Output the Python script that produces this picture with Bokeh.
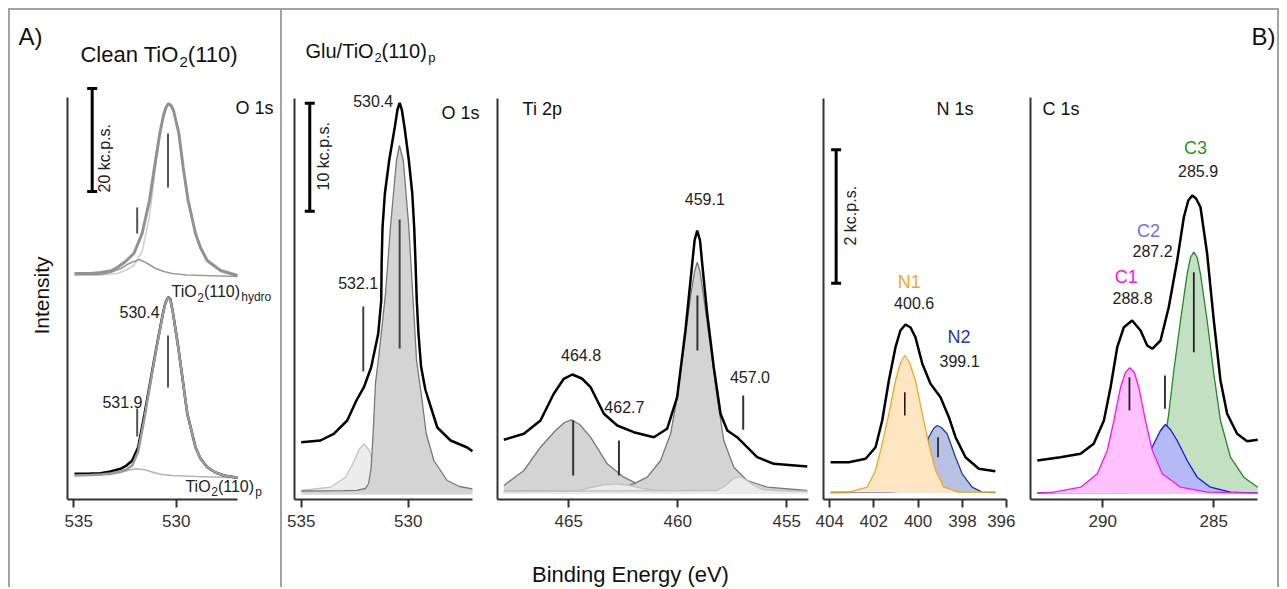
import math
from bokeh.plotting import figure
from bokeh.models import Range1d, FixedTicker, Label, Spacer
from bokeh.layouts import row, column
from bokeh.embed import file_html
from bokeh.resources import INLINE

FONT = "Liberation Sans"

# ------------------------------------------------------------------ data
# intensities are in arbitrary units

# A) clean TiO2(110), O 1s
a_hyd_tot_e = [534.95, 534.17, 533.69, 533.20, 532.87, 532.47, 532.06, 531.66, 531.30, 531.06, 530.80, 530.62, 530.50,
               530.38, 530.25, 530.13, 529.87, 529.66, 529.42, 529.06, 528.82, 528.49, 527.84, 527.02]
a_hyd_tot_i = [228, 228, 229, 230.5, 234, 240, 248, 268, 301, 334, 368, 386, 394, 398, 396, 391, 368, 334, 301, 268, 254,
               241, 231, 226]
a_hyd_lat_e = [534.95, 533.69, 532.87, 532.47, 532.06, 531.66, 531.30, 531.06, 530.80, 530.62, 530.50, 530.38, 530.25,
               530.13, 529.87, 529.66, 529.42, 529.06, 528.82, 528.49, 527.84, 527.02]
a_hyd_lat_i = [226, 226.5, 228, 231, 236, 250, 285, 325, 365, 385, 393, 397, 395, 390, 367, 333, 300, 267, 253, 240, 230,
               225]
a_hyd_oh_e = [534.95, 533.69, 533.20, 532.70, 532.30, 531.80, 531.40, 531.00, 530.60, 530.20, 529.50, 527.02]
a_hyd_oh_i = [227, 227, 229, 233, 238, 242, 238, 233, 230, 228, 226.5, 225]

a_p_e = [534.95, 534.17, 533.69, 533.20, 532.71, 532.42, 532.14, 531.85, 531.54, 531.25, 530.96, 530.65, 530.52, 530.39,
         530.28, 530.15, 529.90, 529.68, 529.46, 529.06, 528.82, 528.49, 528.09, 527.68, 527.02]
a_p_data_i = [27.7, 28, 28.3, 30, 32.7, 36, 41, 54.3, 87.7, 121, 154.3, 187.7, 199, 204.3, 202, 187.7, 154.3, 121, 87.7,
              54.3, 43, 34.3, 29, 26, 23.7]
a_p_fit_i = [26, 26.5, 27, 28, 30, 32, 36, 50, 84, 119, 153, 187, 198.5, 204, 201.5, 187.5, 154, 121, 87.7, 54.3, 43,
             34.3, 29, 26, 23.7]
a_p_oh_e = [534.95, 533.20, 532.70, 532.30, 531.90, 531.50, 531.10, 530.70, 530.20, 529.00, 527.02]
a_p_oh_i = [26, 27, 29, 31.5, 32.7, 31.5, 29, 27, 26, 25, 23.7]

a_mark_e = [530.4, 531.9]
a_mark_hyd_lo = [314, 268]
a_mark_hyd_hi = [368, 294]
a_mark_p_lo = [114, 65]
a_mark_p_hi = [166, 93]
a_labels = ["530.4", "531.9"]
a_ticks = [535, 530]

# B) Glu/TiO2(110)p, O 1s
b_o_tot_e = [535.0, 534.10, 533.48, 532.85, 532.42, 532.07, 531.73, 531.40, 531.26, 531.24, 531.20, 531.09, 530.89,
             530.63, 530.50, 530.40, 530.30, 530.17, 529.97, 529.81, 529.72, 529.66, 529.60, 529.52, 529.40, 529.20,
             529.04, 528.64, 528.02, 527.24, 527.0]
b_o_tot_i = [59.3, 61, 67.7, 81, 101, 114.3, 134.3, 168, 201, 240, 274, 308, 341, 374, 392, 398.7, 392, 374, 341, 308,
             274, 240, 201, 168, 135, 112, 101, 74, 61, 54, 50.3]
b_o_main_e = [535.0, 533.0, 532.4, 532.0, 531.85, 531.73, 531.64, 531.53, 531.35, 531.20, 531.06, 530.83, 530.55,
              530.41, 530.23, 529.97, 529.79, 529.61, 529.35, 529.16, 528.80, 528.18, 527.60, 527.0]
b_o_main_i = [10.5, 10.8, 11.2, 13, 18, 34, 68, 118, 150, 180, 208, 274, 341, 356, 341, 274, 208, 141, 101, 68, 41, 21,
              15, 12.7]
b_o_oh_e = [535.0, 533.63, 532.93, 532.51, 532.30, 532.07, 531.85, 531.64, 531.21, 530.67, 529.43, 527.0]
b_o_oh_i = [11, 14.3, 24.3, 41, 52, 57.7, 52, 41, 24.3, 14.3, 10.3, 10]
b_o_mark_e = [530.4, 532.1]
b_o_mark_lo = [153, 130]
b_o_mark_hi = [282, 195]
b_o_ticks = [535, 530]

# Ti 2p
t_tot_e = [467.98, 467.06, 466.30, 465.69, 465.23, 464.84, 464.40, 464.00, 463.39, 462.78, 462.02, 461.10, 460.49,
           460.03, 459.65, 459.34, 459.23, 459.11, 458.98, 458.88, 458.65, 458.35, 458.04, 457.73, 457.28, 456.82,
           456.36, 455.60, 454.06]
t_tot_i = [59.7, 65.7, 79, 105.7, 120.7, 125, 121, 112.3, 85.7, 74, 67.3, 62.3, 70.7, 102.3, 169, 235.7, 259, 269, 259,
           235.7, 185.7, 132.3, 85.7, 69, 62.3, 52.3, 42.3, 35.7, 33]
t_a_e = [467.98, 467.06, 466.30, 465.61, 465.20, 464.88, 464.50, 464.00, 463.24, 462.48, 461.86, 460.94, 458.96, 454.06]
t_a_i = [14, 29, 52.3, 69, 77, 79.7, 75, 62.3, 35.7, 22.3, 15.7, 10.7, 8, 8]
t_b_e = [467.98, 464.46, 462.78, 462.02, 461.40, 460.79, 460.33, 460.03, 459.72, 459.42, 459.23, 459.11, 458.98,
         458.81, 458.50, 458.19, 457.89, 457.43, 456.82, 455.90, 454.06]
t_b_i = [8, 9, 10.7, 15.7, 22.3, 39, 65.7, 102.3, 152.3, 202.3, 228, 237.3, 228, 202.3, 152.3, 102.3, 59, 32.3, 19,
         12.3, 9]
t_c_e = [467.98, 464.50, 464.00, 463.40, 462.78, 462.20, 461.60, 460.90, 454.06]
t_c_i = [8, 9, 12, 14.7, 15.7, 14, 11, 9, 8]
t_d_e = [467.98, 458.20, 457.80, 457.50, 457.15, 456.90, 456.50, 456.10, 455.50, 454.06]
t_d_i = [8, 9, 14, 20, 23, 20, 14, 10, 9, 8]
t_mark_e = [464.8, 462.7, 459.1, 457.0]
t_mark_lo = [24, 24, 149, 69.7]
t_mark_hi = [79, 59, 204, 104]
t_ticks = [465, 460, 455]

# N 1s
n_tot_e = [403.95, 403.13, 402.37, 401.92, 401.62, 401.32, 401.02, 400.80, 400.57, 400.34, 400.12, 399.81, 399.44,
           398.99, 398.61, 398.31, 397.86, 397.26, 396.51]
n_tot_i = [38.3, 38.3, 41.7, 53.3, 80, 120, 153.3, 170, 176, 173, 163.3, 136.7, 116.7, 103.3, 83.3, 63.3, 43.3, 31.7,
           29.3]
n1_e = [403.95, 403.13, 402.30, 401.92, 401.62, 401.32, 401.02, 400.79, 400.60, 400.39, 400.12, 399.81, 399.52, 399.21,
        398.84, 398.16, 396.51]
n1_i = [8.3, 8.3, 13.3, 30, 56.7, 86.7, 120, 138, 145, 138, 120, 86.7, 56.7, 30, 13.3, 8.3, 8.3]
n2_e = [403.95, 401.25, 400.57, 400.12, 399.81, 399.52, 399.30, 399.14, 398.95, 398.69, 398.31, 398.01, 397.56, 397.11,
        396.51]
n2_i = [8, 8.3, 10, 17, 36.7, 63.3, 72, 75, 73, 66.7, 43.3, 26.7, 13.3, 8.3, 8]
n_mark_e = [400.6, 399.1]
n_mark_lo = [85, 43.3]
n_mark_hi = [108.3, 63.3]
n_ticks = [404, 402, 400, 398, 396]

# C 1s
c_tot_e = [292.95, 291.91, 291.00, 290.41, 289.95, 289.65, 289.35, 289.05, 288.68, 288.30, 288.00, 287.77, 287.40,
           287.03, 286.65, 286.35, 286.15, 285.97, 285.80, 285.60, 285.30, 285.00, 284.70, 284.40, 283.95, 283.50,
           283.02]
c_tot_i = [39, 42.3, 45.7, 55.7, 79, 112.3, 152.3, 172.3, 179, 169, 154, 150.7, 159, 192.3, 239, 282.3, 299, 304, 301,
           292.3, 245.7, 179, 119, 85.7, 65.7, 58.3, 59.7]
c1_e = [292.95, 292.21, 291.00, 290.25, 289.80, 289.50, 289.20, 288.98, 288.78, 288.58, 288.38, 288.08, 287.77, 287.32,
        286.50, 285.30, 283.02]
c1_i = [6.3, 7.3, 12.3, 25.7, 49, 79, 112.3, 127, 131.7, 127, 112.3, 79, 49, 25.7, 12.3, 7.3, 6.3]
c2_e = [292.95, 289.50, 288.75, 288.30, 288.00, 287.70, 287.40, 287.18, 286.95, 286.65, 286.20, 285.75, 285.15, 284.25,
        283.02]
c2_i = [6.3, 9, 15.7, 29, 42.3, 55.7, 69, 75, 70, 59, 39, 22.3, 12.3, 7.3, 6.3]
c3_e = [292.95, 288.75, 288.00, 287.55, 287.25, 287.03, 286.80, 286.50, 286.20, 286.05, 285.90, 285.75, 285.60, 285.30,
        285.00, 284.70, 284.25, 283.65, 283.02]
c3_i = [6.3, 7, 12.3, 25.7, 52.3, 85.7, 129, 179, 225.7, 242, 247.3, 242, 225.7, 179, 125.7, 79, 42.3, 22.3, 12.3]
c_mark_e = [288.8, 287.2, 285.9]
c_mark_lo = [89, 90.7, 147.3]
c_mark_hi = [122.3, 124, 227.3]
c_ticks = [290, 285]

# ------------------------------------------------------------------ helpers
CW = {" ": 278, "(": 333, ")": 333, ".": 278, "/": 278, "A": 667, "B": 667, "C": 722, "G": 778, "O": 778, "T": 611,
      "a": 556, "c": 500, "d": 556, "e": 556, "h": 556, "i": 222, "l": 222, "n": 556, "o": 556, "p": 556, "r": 333,
      "u": 556, "y": 500}
H = 541          # canvas height of the panel row
BB = 52          # bottom border (tick labels)
FH = H - 2 - BB  # frame height


def tw(s, size):
    return sum(CW.get(ch, 556) for ch in s) * size / 1000.0


def lab(p, x, y, text, size=16, color="#222222", align="left", baseline="middle", angle=0.0, dx=0.0, dy=0.0):
    p.add_layout(Label(x=x, y=y, text=text, text_font=FONT, text_font_size=f"{size}px", text_color=color,
                       text_align=align, text_baseline=baseline, angle=angle, x_offset=dx, y_offset=dy))


def compound(p, x, y, parts, color="#222222"):
    off = 0.0
    for text, size, dy in parts:
        lab(p, x, y, text, size, color, "left", "middle", dx=off, dy=dy)
        off += tw(text, size)


def blank(width, height, xr, yr):
    p = figure(width=width, height=height, x_range=Range1d(0, xr), y_range=Range1d(0, yr), output_backend="svg",
               toolbar_location=None, tools="", x_axis_location=None, y_axis_location=None,
               min_border_left=0, min_border_right=0, min_border_top=0, min_border_bottom=0)
    p.grid.visible = False
    p.outline_line_color = None
    return p


def make_fig(width, bl, x0, x1, y0, ticks, xb, yb):
    p = figure(width=width, height=H, x_range=Range1d(x0, x1), y_range=Range1d(y0, y0 + FH),
               output_backend="svg", toolbar_location=None, tools="",
               min_border_left=bl, min_border_right=1, min_border_top=2, min_border_bottom=BB)
    p.grid.visible = False
    p.outline_line_color = None
    xa = p.xaxis[0]
    xa.ticker = FixedTicker(ticks=ticks)
    xa.bounds = xb
    xa.axis_line_width = 2
    xa.axis_line_color = "#333333"
    xa.major_tick_line_width = 2
    xa.major_tick_line_color = "#333333"
    xa.major_tick_out = 8
    xa.major_tick_in = 0
    xa.minor_tick_line_color = None
    xa.major_label_text_font = FONT
    xa.major_label_text_font_size = "17px"
    xa.major_label_text_color = "#333333"
    xa.major_label_standoff = 7
    ya = p.yaxis[0]
    ya.ticker = FixedTicker(ticks=[])
    ya.bounds = yb
    ya.axis_line_width = 2
    ya.axis_line_color = "#333333"
    ya.major_tick_line_color = None
    ya.minor_tick_line_color = None
    ya.major_tick_out = 0
    ya.major_label_standoff = 0
    ya.major_label_text_font_size = "0px"
    return p


def filled(p, e, i, base, fill, line, lw=1.3):
    p.varea(x=e, y1=[base] * len(e), y2=i, fill_color=fill)
    p.line(e, i, line_color=line, line_width=lw)


def marks(p, e, lo, hi, color, lw=2.0):
    p.segment(x0=e, y0=lo, x1=e, y1=hi, line_color=color, line_width=lw)


def scalebar(p, e, lo, hi):
    p.segment(x0=[e], y0=[lo], x1=[e], y1=[hi], line_color="black", line_width=3)
    p.scatter(x=[e, e], y=[lo, hi], marker="dash", size=10, line_color="black", line_width=3)


# ------------------------------------------------------------------ left gutter ("A)" and "Intensity")
pg = blank(54, H, 54, FH)
pg.min_border_top = 2
pg.min_border_bottom = BB
lab(pg, 8, 463, "A)", 24, "#111111", "left", "middle")
lab(pg, 31, 204, "Intensity", 21, "#111111", "center", "middle", angle=math.pi / 2)

# ------------------------------------------------------------------ panel A
pa = make_fig(216, 3, 535.292, 524.971, 2, a_ticks, (527.02, 535.292), (0, 404))
pa.line(a_hyd_lat_e, a_hyd_lat_i, line_color="#cfcfcf", line_width=1.5)
pa.line(a_hyd_oh_e, a_hyd_oh_i, line_color="#9a9a9a", line_width=1.5)
pa.line(a_hyd_tot_e, a_hyd_tot_i, line_color="#929292", line_width=3)
pa.line(a_p_oh_e, a_p_oh_i, line_color="#b4b4b4", line_width=1.5)
pa.line(a_p_e, a_p_data_i, line_color="black", line_width=2.5)
pa.line(a_p_e, a_p_fit_i, line_color="#9a9a9a", line_width=2.5)
marks(pa, a_mark_e, a_mark_hyd_lo, a_mark_hyd_hi, "#555555")
marks(pa, a_mark_e, a_mark_p_lo, a_mark_p_hi, "#555555")
scalebar(pa, 534.09, 310, 413)
lab(pa, 533.49, 309, "20 kc.p.s.", 16, "#222222", "left", "middle", angle=math.pi / 2)
compound(pa, 534.66, 447, [("Clean TiO", 22, 0), ("2", 15, -7), ("(110)", 22, 0)], "#111111")
lab(pa, 525.26, 393.5, "O 1s", 18, "#111111", "right", "middle")
compound(pa, 530.23, 210, [("TiO", 16, 0), ("2", 12, -5.5), ("(110)", 16, 0), ("hydro", 12, -5.5)])
compound(pa, 529.55, 15, [("TiO", 16, 0), ("2", 12, -5), ("(110)", 16, 0), ("p", 12, -5)])
lab(pa, 530.81, 189.3, a_labels[0], 16, "#222222", "right", "middle")
lab(pa, 531.64, 99.3, a_labels[1], 16, "#222222", "right", "middle")

# ------------------------------------------------------------------ panel B: O 1s
po = make_fig(203, 12, 535.313, 526.435, 2, b_o_ticks, (527.0, 535.313), (0, 403))
filled(po, b_o_oh_e, b_o_oh_i, 7, "#ececec", "#c2c2c2")
filled(po, b_o_main_e, b_o_main_i, 7, "#d4d4d4", "#777777")
po.line(b_o_tot_e, b_o_tot_i, line_color="black", line_width=2.5)
marks(po, b_o_mark_e, b_o_mark_lo, b_o_mark_hi, "#444444")
scalebar(po, 534.60, 290.3, 398.3)
lab(po, 533.97, 311, "10 kc.p.s.", 16, "#222222", "left", "middle", angle=math.pi / 2)
compound(po, 534.80, 451, [("Glu/TiO", 20, 0), ("2", 13, -6.5), ("(110)", 20, 0), ("p", 13, -6.5)], "#111111")
lab(po, 526.67, 388.3, "O 1s", 18, "#111111", "right", "middle")
lab(po, 530.70, 400.3, "530.4", 16, "#222222", "right", "middle")
lab(po, 531.40, 218.3, "532.1", 16, "#222222", "right", "middle")

# ------------------------------------------------------------------ panel B: Ti 2p
pt = make_fig(330, 12, 468.271, 453.729, 0, t_ticks, (454.0, 468.271), (0, 401))
filled(pt, t_a_e, t_a_i, 6, "#d4d4d4", "#777777")
filled(pt, t_b_e, t_b_i, 6, "#d4d4d4", "#777777")
filled(pt, t_c_e, t_c_i, 6, "#ebebeb", "#c2c2c2")
filled(pt, t_d_e, t_d_i, 6, "#ebebeb", "#c2c2c2")
pt.line(t_tot_e, t_tot_i, line_color="black", line_width=2.5)
marks(pt, t_mark_e, t_mark_lo, t_mark_hi, "#333333")
lab(pt, 467.12, 391, "Ti 2p", 18, "#111111", "left", "middle")
lab(pt, 458.76, 300.7, "459.1", 16, "#222222", "center", "middle")
lab(pt, 464.44, 145, "464.8", 16, "#222222", "center", "middle")
lab(pt, 462.45, 92.3, "462.7", 16, "#222222", "center", "middle")
lab(pt, 456.69, 122.3, "457.0", 16, "#222222", "center", "middle")

# ------------------------------------------------------------------ panel B: N 1s
pn = make_fig(200, 8, 404.271, 395.648, 1, n_ticks, (395.99, 404.271), (0, 402))
filled(pn, n2_e, n2_i, 8, "#b9c1e2", "#1f3aa6")
filled(pn, n1_e, n1_i, 8, "#fde6c1", "#f5a61e")
pn.line(n_tot_e, n_tot_i, line_color="black", line_width=2.5)
marks(pn, n_mark_e, n_mark_lo, n_mark_hi, "#111111", 1.5)
scalebar(pn, 403.70, 217.3, 350.7)
lab(pn, 403.05, 255, "2 kc.p.s.", 16, "#222222", "left", "middle", angle=math.pi / 2)
lab(pn, 397.50, 392, "N 1s", 18, "#111111", "right", "middle")
lab(pn, 400.40, 219, "N1", 18, "#f5a61e", "center", "middle")
lab(pn, 400.18, 197.3, "400.6", 16, "#222222", "center", "middle")
lab(pn, 398.15, 163.3, "N2", 18, "#1f3aa6", "center", "middle")
lab(pn, 398.13, 139.3, "399.1", 16, "#222222", "center", "middle")

# ------------------------------------------------------------------ panel B: C 1s
pc = make_fig(262, 15, 293.257, 282.176, 0, c_ticks, (283.03, 293.257), (0, 402))
filled(pc, c3_e, c3_i, 6, "#c3e0c3", "#1f8a1f")
filled(pc, c2_e, c2_i, 6, "#b5b9f6", "#1414f0")
filled(pc, c1_e, c1_i, 6, "#ffc2ff", "#ff10ff")
pc.line(c_tot_e, c_tot_i, line_color="black", line_width=2.5)
marks(pc, c_mark_e, c_mark_lo, c_mark_hi, "#222222", 1.8)
lab(pc, 292.72, 390.7, "C 1s", 18, "#111111", "left", "middle")
lab(pc, 283.30, 463, "B)", 24, "#111111", "left", "middle")
lab(pc, 285.82, 351.7, "C3", 18, "#1f9a1f", "center", "middle")
lab(pc, 285.71, 329, "285.9", 16, "#222222", "center", "middle")
lab(pc, 287.94, 269, "C2", 18, "#6f6ff0", "center", "middle")
lab(pc, 287.76, 249, "287.2", 16, "#222222", "center", "middle")
lab(pc, 288.94, 222.3, "C1", 18, "#ff10e0", "center", "middle")
lab(pc, 288.66, 201.3, "288.8", 16, "#222222", "center", "middle")

# ------------------------------------------------------------------ common x label strip
HS = 36
ps = blank(995, HS, 995, HS)
lab(ps, 348, 13.5, "Binding Energy (eV)", 22, "#111111", "center", "middle")

# ------------------------------------------------------------------ layout with frame lines
GREY = "#a2a2a2"


def vbar(h):
    return Spacer(width=2, height=h, styles={"background-color": GREY})


body = row(Spacer(width=8, height=H), vbar(H), pg, pa, vbar(H), po, pt, pn, pc, vbar(H))
bottom = row(Spacer(width=8, height=HS), vbar(HS), Spacer(width=270, height=HS), vbar(HS), ps, vbar(HS))
top = row(Spacer(width=8, height=2), Spacer(width=1271, height=2, styles={"background-color": GREY}))
page = column(Spacer(width=1279, height=8), top, body, bottom)

open("out.html", "w").write(file_html(page, INLINE))
